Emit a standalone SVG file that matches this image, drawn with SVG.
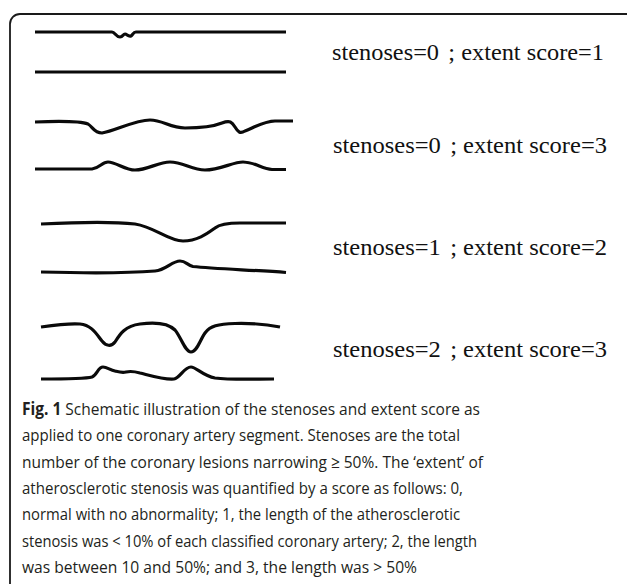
<svg xmlns="http://www.w3.org/2000/svg" width="627" height="584" viewBox="0 0 627 584">
  <style>
    .vessel { fill: none; stroke: #0a0a0a; stroke-width: 3.2; stroke-linejoin: round; stroke-linecap: butt; }
    .label { font-family: "Liberation Serif", "Times New Roman", serif; font-size: 23px; fill: #111; }
    .caption { font-family: "Open Sans", "Noto Sans", sans-serif; font-size: 17px; fill: #231f20; }
    .frame { fill: none; stroke: #1a1a1a; stroke-width: 1.8; }
  </style>
  <rect width="627" height="584" fill="#fff"/>

  <!-- figure frame: left edge and top edge with a rounded corner -->
  <path class="frame" d="M10,584 V24 A10,10 0 0 1 20,14 H627"/>

  <!-- row 1: one tiny irregularity -->
  <g id="segment-1">
    <path class="vessel" d="M35,32 H112 C115,32 116,37 120,37 C123,37 123,34 125,34 C127,34 128,37 131,36 C133,35 133,32 136,32 H286"/>
    <path class="vessel" d="M35,72 H286"/>
    <text class="label" x="332" y="60" textLength="272" lengthAdjust="spacingAndGlyphs">stenoses=0<tspan dx="3"> ; extent score=1</tspan></text>
  </g>

  <!-- row 2: diffuse wall irregularities -->
  <g id="segment-2">
    <path class="vessel" d="M35,122 C60,121 80,121 88,124 C93,127 94,133 102,133 C115,131 135,120 150,120 C163,120 170,128 185,128 C200,128 212,127 222,123 C230,120 232,122 235,127 C238,132 240,134 245,131 C255,127 265,121 275,121 H293"/>
    <path class="vessel" d="M35,169 H92 C100,168 102,162 108,162 C116,162 125,170 135,170 C148,170 158,162 170,162 C183,162 192,170 205,170 C220,170 233,162 243,162 C255,162 262,169 272,169.5 H286"/>
    <text class="label" x="333" y="153" textLength="274" lengthAdjust="spacingAndGlyphs">stenoses=0<tspan dx="3"> ; extent score=3</tspan></text>
  </g>

  <!-- row 3: one significant lesion -->
  <g id="segment-3">
    <path class="vessel" d="M41,224 C70,222.5 110,221 135,224 C155,227 168,241 183,241 C198,241 208,233 215,228 C220,224 228,223 240,223 H286"/>
    <path class="vessel" d="M41,272 C80,273 130,273 155,271 C166,270 172,261 180,261 C186,261 187,265 193,266.5 C215,269 255,270 286,272.5"/>
    <text class="label" x="333" y="255" textLength="274" lengthAdjust="spacingAndGlyphs">stenoses=1<tspan dx="3"> ; extent score=2</tspan></text>
  </g>

  <!-- row 4: two significant lesions -->
  <g id="segment-4">
    <path class="vessel" d="M41,327 C55,325 70,323 80,324 C92,325 97,335 102,341 C106,346 111,347 115,342 C120,334 125,326 140,324 C155,322 168,323 175,330 C181,337 185,352 191,352 C197,352 200,340 205,333 C210,326 218,324 235,323.5 C255,323 270,325 280,327"/>
    <path class="vessel" d="M41,379 C60,379 85,379 92,377 C97,375 98,367 103,367 C107,367 110,370 115,371 C119,372 122,373 126,372 C130,371 133,371 140,373 C152,376 165,380 174,379 C180,378 184,367 191,367 C196,367 203,376 215,378 C230,380 255,379 274,379"/>
    <text class="label" x="333" y="357" textLength="274" lengthAdjust="spacingAndGlyphs">stenoses=2<tspan dx="3"> ; extent score=3</tspan></text>
  </g>

  <!-- caption -->
  <g id="caption" class="caption">
    <text x="22" y="415" textLength="458" lengthAdjust="spacingAndGlyphs"><tspan font-weight="bold">Fig. 1</tspan> Schematic illustration of the stenoses and extent score as</text>
    <text x="22" y="441" textLength="438" lengthAdjust="spacingAndGlyphs">applied to one coronary artery segment. Stenoses are the total</text>
    <text x="22" y="467.5" textLength="461" lengthAdjust="spacingAndGlyphs">number of the coronary lesions narrowing ≥ 50%. The ‘extent’ of</text>
    <text x="22" y="494" textLength="441" lengthAdjust="spacingAndGlyphs">atherosclerotic stenosis was quantified by a score as follows: 0,</text>
    <text x="22" y="520" textLength="438" lengthAdjust="spacingAndGlyphs">normal with no abnormality; 1, the length of the atherosclerotic</text>
    <text x="22" y="546.5" textLength="455" lengthAdjust="spacingAndGlyphs">stenosis was &lt; 10% of each classified coronary artery; 2, the length</text>
    <text x="22" y="572.5" textLength="395" lengthAdjust="spacingAndGlyphs">was between 10 and 50%; and 3, the length was &gt; 50%</text>
  </g>
</svg>
